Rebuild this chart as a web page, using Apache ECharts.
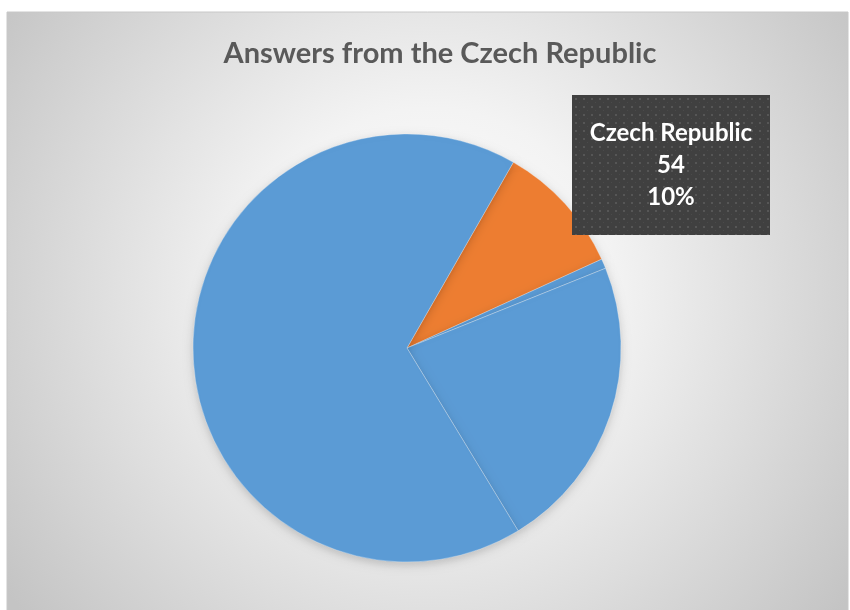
<!DOCTYPE html>
<html>
<head>
<meta charset="utf-8">
<script src="https://cdn.jsdelivr.net/npm/echarts@6/dist/echarts.min.js"></script>
<style>
  html, body { margin: 0; padding: 0; background: #ffffff; }
  #chart { width: 850px; height: 610px; }
</style>
</head>
<body>
<div id="chart"></div>
<script>
// Answer counts by group; the Czech Republic slice is highlighted
const categories = ['Czech Republic', 'Other 1', 'Other 2', 'Other 3'];
const counts = [54, 4, 122, 365];
const sliceColors = ['#ed7d31', '#5b9bd5', '#5b9bd5', '#5b9bd5'];
const titleText = 'Answers from the Czech Republic';

// Dotted dark texture used behind the callout text
function makeDotTexture(w, h) {
  const c = document.createElement('canvas');
  c.width = w; c.height = h;
  const g = c.getContext('2d');
  g.fillStyle = '#404040';
  g.fillRect(0, 0, w, h);
  for (let y = 3; y < h; y += 8) {
    for (let x = 3; x < w; x += 8) {
      g.fillStyle = '#565656';
      g.fillRect(x, y, 2, 2);
      g.fillStyle = '#4a4a4a';
      g.fillRect(x + 4, y + 4, 1, 1);
    }
  }
  return c;
}

const chart = echarts.init(document.getElementById('chart'), null, { renderer: 'canvas' });

const data = categories.map((name, i) => ({
  name: name,
  value: counts[i],
  itemStyle: { color: sliceColors[i] },
  label: { show: i === 0 }
}));

chart.setOption({
  animation: false,
  graphic: [{
    type: 'rect',
    z: -10,
    silent: true,
    shape: { x: 7, y: 12, width: 841, height: 610 },
    style: {
      fill: new echarts.graphic.RadialGradient(430, 290, 520, [
        { offset: 0, color: '#ffffff' },
        { offset: 0.35, color: '#f3f3f3' },
        { offset: 1, color: '#c4c4c4' }
      ], true),
      stroke: '#c8c8c8',
      lineWidth: 1
    }
  }],
  title: {
    text: titleText,
    left: 435,
    top: 34,
    textAlign: 'center',
    textStyle: {
      fontFamily: 'Lato',
      fontWeight: 'bold',
      fontSize: 29,
      color: '#595959'
    }
  },
  series: [{
    type: 'pie',
    center: [407, 348],
    radius: [0, 214],
    startAngle: 60.2,
    clockwise: true,
    percentPrecision: 0,
    data: data,
    itemStyle: {
      borderColor: 'rgba(255,255,255,0.4)',
      borderWidth: 0.7,
      shadowBlur: 10,
      shadowOffsetY: 3,
      shadowColor: 'rgba(0,0,0,0.18)'
    },
    labelLine: { show: false },
    label: {
      position: 'inside',
      formatter: '{b}\n{c}\n{d}%',
      fontFamily: 'Lato',
      fontWeight: 'bold',
      fontSize: 24,
      lineHeight: 32,
      color: '#ffffff',
      align: 'center',
      width: 174,
      padding: [22, 12, 22, 12],
      backgroundColor: { image: makeDotTexture(198, 140) },
      shadowBlur: 6,
      shadowOffsetX: 3,
      shadowOffsetY: 3,
      shadowColor: 'rgba(0,0,0,0.35)'
    },
    labelLayout: function (params) {
      return params.dataIndex === 0 ? { x: 671, y: 165, align: 'center', verticalAlign: 'middle' } : {};
    }
  }]
});
</script>
</body>
</html>
